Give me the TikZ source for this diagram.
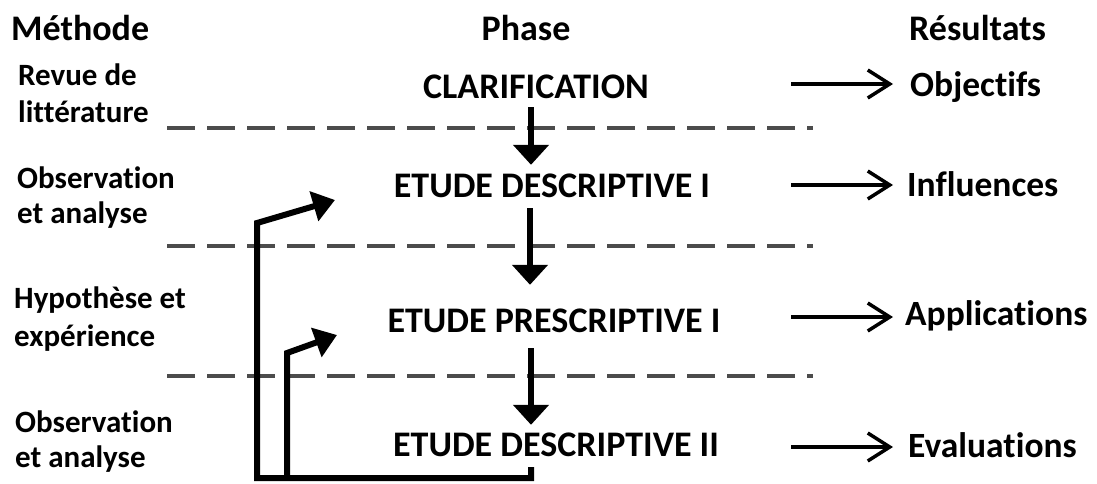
\documentclass[tikz,border=0pt]{standalone}
\usepackage{fontspec}
\setmainfont{Carlito}[Ligatures=NoCommon]
\usetikzlibrary{arrows.meta,calc}
\begin{document}
\begin{tikzpicture}[x=1pt,y=-1pt,
  hdr/.style={font=\fontsize{36}{42}\selectfont\bfseries, inner sep=0pt},
  meth/.style={font=\fontsize{31}{37}\selectfont\bfseries, inner sep=0pt, anchor=base west},
  phase/.style={font=\fontsize{36}{42}\selectfont\bfseries, inner sep=0pt, anchor=base, text height=23pt, text depth=0pt},
  res/.style={font=\fontsize{35.5}{42}\selectfont\bfseries, inner sep=0pt, anchor=base west},
  sep/.style={draw=black!70, line width=3.5pt, dash pattern=on 28pt off 12pt},
  down/.style={line width=6pt, -{Triangle[length=20pt,width=35pt]}},
  outarr/.style={line width=3.5pt, -{Straight Barb[length=22pt,width=28pt]}},
  fb/.style={line width=6pt, -{Triangle[length=22pt,width=30pt]}}]
\useasboundingbox (0,0) rectangle (1097,483);

% headers
\node[hdr, anchor=base west] (hm) at (11,40) {Méthode};
\node[hdr, anchor=base] (hp) at (526,40) {Phase};
\node[hdr, anchor=base west] (hr) at (909,40) {Résultats};

% methods
\node[meth] (m1a) at (18,85) {Revue de};
\node[meth] (m1b) at (18,122) {littérature};
\node[meth] (m2a) at (17,188) {Observation};
\node[meth] (m2b) at (17,223) {et analyse};
\node[meth] (m3a) at (14,308) {Hypothèse et};
\node[meth] (m3b) at (14,346) {expérience};
\node[meth] (m4a) at (15,432) {Observation};
\node[meth] (m4b) at (15,467) {et analyse};

% phases
\node[phase] (clar) at (536,98) {CLARIFICATION};
\node[phase] (d1) at (552,197) {ETUDE DESCRIPTIVE I};
\node[phase] (p1) at (554,332) {ETUDE PRESCRIPTIVE I};
\node[phase] (d2) at (556,456) {ETUDE DESCRIPTIVE II};

% results
\node[res] (r1) at (910,96) {Objectifs};
\node[res] (r2) at (907,196) {Influences};
\node[res] (r3) at (905,325) {Applications};
\node[res] (r4) at (908,457) {Evaluations};

% separators
\draw[sep] (167,128) -- (813,128);
\draw[sep] (167,246) -- (813,246);
\draw[sep] (167,376) -- (813,376);

% phase arrows
\draw[down] ($(clar.south)+(-5,9)$) -- ($(d1.north)+(-21,-9)$);
\draw[down] ($(d1.south)+(-22,11)$) -- ($(p1.north)+(-24,-24)$);
\draw[down] ($(p1.south)+(-23,16)$) -- ($(d2.north)+(-25,-8)$);

% result arrows
\coordinate (o1) at (791,84);
\coordinate (o2) at (791,185);
\coordinate (o3) at (791,317);
\coordinate (o4) at (791,447);
\draw[outarr, shorten >=17pt] (o1) -- (o1 -| r1.west);
\draw[outarr, shorten >=14pt] (o2) -- (o2 -| r2.west);
\draw[outarr, shorten >=12pt] (o3) -- (o3 -| r3.west);
\draw[outarr, shorten >=15pt] (o4) -- (o4 -| r4.west);

% feedback loops
\coordinate (fb0) at ($(d2.south)+(-25,11)$);
\coordinate (c1) at (257,478);
\coordinate (c2) at (257,223);
\coordinate (t1) at (335,200);
\coordinate (c3) at (287,478);
\coordinate (c4) at (287,353);
\coordinate (t2) at (337,335);
\draw[fb] (fb0) -- (fb0 |- c1) -- (c1) -- (c2) -- (t1);
\draw[fb] (c3) -- (c4) -- (t2);
\end{tikzpicture}
\end{document}
